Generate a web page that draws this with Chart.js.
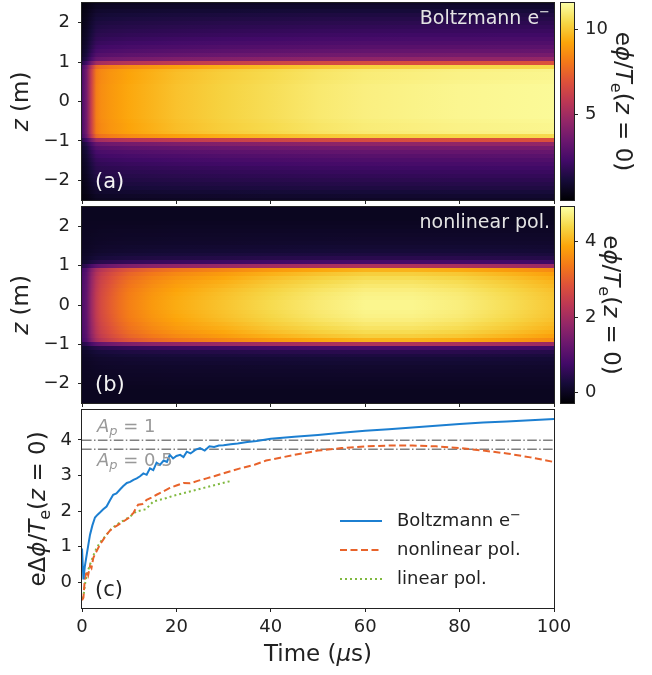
<!DOCTYPE html>
<html>
<head>
<meta charset="utf-8">
<script src="https://cdn.jsdelivr.net/npm/chart.js@4"></script>
<style>
  body { margin: 0; background: #fff; }
  #fig { position: relative; width: 652px; height: 675px; }
  #fig canvas { position: absolute; }
</style>
</head>
<body>
<div id="fig">
  <canvas id="mapA" width="560" height="206" style="left:0;top:0"></canvas>
  <canvas id="barA" width="97" height="206" style="left:555px;top:0"></canvas>
  <canvas id="mapB" width="560" height="206" style="left:0;top:201px"></canvas>
  <canvas id="barB" width="97" height="206" style="left:555px;top:201px"></canvas>
  <canvas id="lineC" width="600" height="275" style="left:0;top:400px"></canvas>
</div>
<script>
// ticks
const zTicks = [-2, -1, 0, 1, 2];
const cTicks = [0, 1, 2, 3, 4];
const barTicksA = [5, 10];
const barTicksB = [0, 2, 4];
const rangeA = [-0.05, 11.55];
const rangeB = [-0.27, 4.92];

// heatmaps: value at z=0 against time, and shape across z (0 .. 2.5, mirrored)
const mapTimes = [0, 1, 2, 3, 4, 6, 8, 10, 15, 20, 30, 40, 50, 60, 70, 80, 90, 100];
const centreA = [2.5, 3.8, 6.2, 8.2, 8.6, 8.9, 9.1, 9.3, 9.6, 9.9, 10.3, 10.6, 10.9, 11.1, 11.2, 11.3, 11.35, 11.4];
const centreB = [0.9, 1.2, 1.9, 2.4, 2.7, 3.0, 3.25, 3.45, 3.75, 3.95, 4.2, 4.45, 4.65, 4.8, 4.8, 4.7, 4.5, 4.25];
const zLevels = [0, 0.1, 0.2, 0.3, 0.4, 0.5, 0.6, 0.7, 0.8, 0.9, 1.0, 1.1, 1.2, 1.3, 1.4, 1.5, 1.6, 1.7, 1.8, 1.9, 2.0, 2.1, 2.2, 2.3, 2.4, 2.5];
const profileA = [1, 1, 1, 1, 1, 0.995, 0.99, 0.99, 0.985, 0.92, 0.6, 0.4, 0.33, 0.29, 0.26, 0.235, 0.215, 0.195, 0.18, 0.165, 0.15, 0.135, 0.12, 0.1, 0.08, 0.065];
const profileB = [1, 1, 0.995, 0.99, 0.98, 0.965, 0.95, 0.93, 0.9, 0.84, 0.45, 0.17, 0.1, 0.07, 0.05, 0.04, 0.03, 0.025, 0.02, 0.015, 0.01, 0.005, 0, 0, 0, 0];

// panel (c)
const boltzTime = [0, 0.3, 0.6, 1.0, 1.4, 1.7, 2.2, 2.75, 3.3, 3.8, 4.5, 5.2, 5.9, 6.6, 7.3, 8.0, 8.7, 9.5, 10.2, 10.9, 11.6, 12.3, 13.0, 13.7, 14.4, 15.1, 15.8, 16.5, 17.3, 18.0, 18.6, 19.3, 20.0, 20.8, 21.5, 22.2, 23.0, 24.0, 25.0, 26.0, 27.0, 28.0, 29.0, 30.0, 31.5, 33, 35, 37, 40, 45, 50, 55, 60, 65, 70, 75, 80, 85, 90, 95, 100];
const boltzValue = [0.95, 0.08, 0.45, 0.78, 1.1, 1.34, 1.6, 1.82, 1.9, 1.96, 2.05, 2.13, 2.3, 2.46, 2.5, 2.6, 2.7, 2.79, 2.82, 2.88, 2.92, 2.98, 3.06, 3.02, 3.2, 3.15, 3.36, 3.3, 3.42, 3.38, 3.58, 3.48, 3.55, 3.58, 3.52, 3.67, 3.62, 3.72, 3.77, 3.7, 3.82, 3.8, 3.84, 3.85, 3.88, 3.9, 3.94, 3.97, 4.03, 4.09, 4.14, 4.2, 4.26, 4.3, 4.35, 4.4, 4.45, 4.49, 4.52, 4.55, 4.59];
const nonlinTime = [0, 0.3, 0.6, 1.0, 1.3, 1.7, 2.0, 2.4, 3.0, 3.8, 4.5, 5.2, 5.9, 6.6, 7.5, 8.75, 9.8, 10.9, 11.5, 11.9, 12.8, 13.7, 14.7, 15.8, 17.2, 18.6, 20, 21.5, 22.9, 24.5, 26.4, 28, 29.9, 31.7, 33.5, 36.7, 39, 42, 45, 50, 55, 60, 65, 70, 75, 80, 85, 90, 95, 100];
const nonlinValue = [-0.5, -0.43, 0.1, 0.32, 0.2, 0.46, 0.4, 0.69, 0.85, 1.06, 1.2, 1.34, 1.45, 1.53, 1.6, 1.71, 1.8, 1.95, 2.1, 2.18, 2.2, 2.32, 2.38, 2.46, 2.55, 2.65, 2.72, 2.79, 2.78, 2.85, 2.92, 2.98, 3.06, 3.13, 3.2, 3.31, 3.42, 3.5, 3.58, 3.7, 3.77, 3.82, 3.84, 3.84, 3.82, 3.77, 3.7, 3.62, 3.51, 3.38];
const linTime = [0, 0.3, 0.7, 1.2, 1.7, 2.4, 3.1, 4.0, 5.2, 6.2, 7.3, 8.7, 10.2, 11.5, 12.5, 13.5, 15.1, 16.5, 17.9, 19.3, 20.8, 22.5, 24.3, 26, 27.8, 29.8, 31.7];
const linValue = [-0.45, -0.39, 0.0, 0.3, 0.5, 0.75, 0.97, 1.15, 1.34, 1.5, 1.62, 1.73, 1.85, 1.99, 2.02, 2.05, 2.27, 2.32, 2.37, 2.43, 2.48, 2.54, 2.6, 2.66, 2.72, 2.79, 2.85];
const apLevels = [3.99, 3.74];

const FONT = '"DejaVu Sans"';
Chart.defaults.font.family = FONT;
Chart.defaults.color = '#222';

const infernoStops = ['#000004', '#160b39', '#420a68', '#6a176e', '#932667', '#bc3754', '#dd513a', '#f37819', '#fca50a', '#f6d746', '#fcffa4'];
const hexRgb = h => [1, 3, 5].map(i => parseInt(h.slice(i, i + 2), 16));
function inferno(f) {
  f = Math.min(1, Math.max(0, f));
  const p = f * 10, i = Math.min(9, Math.floor(p)), u = p - i;
  const a = hexRgb(infernoStops[i]), b = hexRgb(infernoStops[i + 1]);
  return 'rgb(' + a.map((c, k) => Math.round(c + (b[k] - c) * u)).join(',') + ')';
}

function drawRich(ctx, segs, x, y, o) {
  const size = o.size || 18;
  const fontOf = s => (s.it ? 'italic ' : '') + Math.round((s.sub || s.sup ? 0.7 : 1) * size) + 'px ' + FONT;
  ctx.save();
  ctx.translate(x, y);
  ctx.rotate(o.rot || 0);
  ctx.fillStyle = o.color || '#222';
  ctx.textBaseline = 'middle';
  ctx.textAlign = 'left';
  const ws = segs.map(s => { ctx.font = fontOf(s); return ctx.measureText(s.t).width; });
  const total = ws.reduce((a, b) => a + b, 0);
  let cx = o.align === 'left' ? 0 : o.align === 'right' ? -total : -total / 2;
  segs.forEach((s, i) => {
    ctx.font = fontOf(s);
    const dy = s.sub ? size * 0.28 : s.sup ? -size * 0.32 : 0;
    ctx.fillText(s.t, cx, dy);
    cx += ws[i];
  });
  ctx.restore();
}

const textPlugin = fn => ({
  id: 'texts',
  afterDraw(chart) {
    fn(chart.chartArea).forEach(it => drawRich(chart.ctx, it.segs, it.x, it.y, it));
  }
});

const framePlugin = {
  id: 'frame',
  afterDraw(chart) {
    const { ctx, chartArea: a } = chart;
    ctx.save();
    ctx.strokeStyle = '#222';
    ctx.lineWidth = 1;
    ctx.strokeRect(a.left - 0.5, a.top - 0.5, a.width + 1, a.height + 1);
    ctx.restore();
  }
};

const heatmapPlugin = (centre, profile, range) => ({
  id: 'heatmap',
  beforeDatasetsDraw(chart) {
    const { ctx, chartArea: a, scales: { x, y } } = chart;
    const t0 = mapTimes[0], t1 = mapTimes[mapTimes.length - 1];
    const x0 = x.getPixelForValue(t0), x1 = x.getPixelForValue(t1);
    const dz = zLevels[1] - zLevels[0];
    ctx.save();
    ctx.beginPath();
    ctx.rect(a.left, a.top, a.width, a.height);
    ctx.clip();
    profile.forEach((p, k) => {
      const g = ctx.createLinearGradient(x0, 0, x1, 0);
      mapTimes.forEach((t, j) => {
        g.addColorStop((t - t0) / (t1 - t0), inferno((centre[j] * p - range[0]) / (range[1] - range[0])));
      });
      ctx.fillStyle = g;
      const z = zLevels[k];
      (k === 0 ? [z] : [z, -z]).forEach(zc => {
        const yt = Math.floor(y.getPixelForValue(zc + dz / 2));
        const yb = Math.ceil(y.getPixelForValue(zc - dz / 2));
        ctx.fillRect(x0, yt, x1 - x0, yb - yt);
      });
    });
    ctx.restore();
  }
});

const colorbarPlugin = range => ({
  id: 'colorbar',
  beforeDatasetsDraw(chart) {
    const { ctx, chartArea: a, scales: { y } } = chart;
    const g = ctx.createLinearGradient(0, y.getPixelForValue(range[0]), 0, y.getPixelForValue(range[1]));
    infernoStops.forEach((c, i) => g.addColorStop(i / 10, c));
    ctx.save();
    ctx.fillStyle = g;
    ctx.fillRect(a.left, a.top, a.width, a.height);
    ctx.restore();
  }
});

const tickGrid = { drawOnChartArea: false, drawTicks: true, tickLength: 4, color: '#222', lineWidth: 1 };
const minus = v => String(v).replace('-', '\u2212');
const fixTicks = list => s => { s.ticks = list.map(v => ({ value: v })); };
// fixed axis size, and no extra room kept for the end labels
const fitTo = (w, h) => s => {
  if (w !== null) s.width = w;
  if (h !== null) s.height = h;
  s.paddingTop = s.paddingBottom = s.paddingLeft = s.paddingRight = 0;
};

function mapChart(id, centre, profile, range, padTop, xHeight, title, tag) {
  return new Chart(document.getElementById(id), {
    type: 'scatter',
    data: { datasets: [] },
    options: {
      responsive: false, animation: false, devicePixelRatio: 1,
      layout: { autoPadding: false, padding: { top: padTop, right: 6, left: 0, bottom: 0 } },
      plugins: { legend: { display: false }, tooltip: { enabled: false } },
      scales: {
        x: {
          type: 'linear', min: 0, max: 100,
          ticks: { display: false, stepSize: 20 },
          grid: tickGrid, border: { display: false },
          afterFit: fitTo(null, xHeight)
        },
        y: {
          type: 'linear', min: -2.5, max: 2.5,
          afterBuildTicks: fixTicks(zTicks),
          ticks: { font: { size: 18 }, padding: 8, callback: minus },
          grid: tickGrid, border: { display: false },
          afterFit: fitTo(82, null)
        }
      }
    },
    plugins: [heatmapPlugin(centre, profile, range), framePlugin, textPlugin(a => [
      { segs: [{ t: 'z', it: 1 }, { t: ' (m)' }], x: 22, y: (a.top + a.bottom) / 2, rot: -Math.PI / 2, size: 23 },
      { segs: title, x: a.right - 4, y: a.top + 16, align: 'right', size: 18.5, color: '#e4e4e4' },
      { segs: [{ t: tag }], x: a.left + 13, y: a.bottom - 17, align: 'left', size: 21, color: '#f4f4f4' }
    ])]
  });
}

function barChart(id, range, ticks, padTop, padBottom, labelX) {
  return new Chart(document.getElementById(id), {
    type: 'scatter',
    data: { datasets: [] },
    options: {
      responsive: false, animation: false, devicePixelRatio: 1,
      layout: { autoPadding: false, padding: { top: padTop, bottom: padBottom, left: 6, right: 0 } },
      plugins: { legend: { display: false }, tooltip: { enabled: false } },
      scales: {
        x: { type: 'linear', display: false, min: 0, max: 1 },
        y: {
          type: 'linear', position: 'right', min: range[0], max: range[1],
          afterBuildTicks: fixTicks(ticks),
          ticks: { font: { size: 18 }, padding: 7 },
          grid: tickGrid, border: { display: false },
          afterFit: fitTo(78, null)
        }
      }
    },
    plugins: [colorbarPlugin(range), framePlugin, textPlugin(a => [
      { segs: [{ t: 'e' }, { t: 'ϕ', it: 1 }, { t: '/' }, { t: 'T', it: 1 }, { t: 'e', sub: 1 }, { t: '(' }, { t: 'z', it: 1 }, { t: ' = 0)' }],
        x: labelX, y: (a.top + a.bottom) / 2, rot: Math.PI / 2, size: 23 }
    ])]
  });
}

mapChart('mapA', centreA, profileA, rangeA, 3, 6, [{ t: 'Boltzmann e' }, { t: '−', sup: 1 }], '(a)');
mapChart('mapB', centreB, profileB, rangeB, 6, 4, [{ t: 'nonlinear pol.' }], '(b)');
barChart('barA', rangeA, barTicksA, 3, 6, 67);
barChart('barB', rangeB, barTicksB, 6, 4, 55);

const pairs = (xs, ys) => xs.map((x, i) => ({ x, y: ys[i] }));
const lineStyle = { showLine: true, pointRadius: 0, fill: false, tension: 0 };

const legendPlugin = {
  id: 'boxLegend',
  afterDraw(chart) {
    const { ctx, chartArea: a } = chart;
    chart.data.datasets.slice(0, 3).forEach((ds, i) => {
      const y = a.top + 111 + i * 29;
      ctx.save();
      ctx.strokeStyle = ds.borderColor;
      ctx.lineWidth = ds.borderWidth;
      ctx.setLineDash(ds.borderDash || []);
      ctx.beginPath();
      ctx.moveTo(a.left + 258, y);
      ctx.lineTo(a.left + 300, y);
      ctx.stroke();
      ctx.restore();
      const segs = ds.label.endsWith('⁻') ? [{ t: ds.label.slice(0, -1) }, { t: '−', sup: 1 }] : [{ t: ds.label }];
      drawRich(ctx, segs, a.left + 315, y, { align: 'left', size: 18 });
    });
  }
};

new Chart(document.getElementById('lineC'), {
  type: 'scatter',
  data: {
    datasets: [
      { label: 'Boltzmann e⁻', data: pairs(boltzTime, boltzValue), borderColor: '#1c7fd1', borderWidth: 2, ...lineStyle },
      { label: 'nonlinear pol.', data: pairs(nonlinTime, nonlinValue), borderColor: '#e8632b', borderWidth: 2, borderDash: [7, 3.5], ...lineStyle },
      { label: 'linear pol.', data: pairs(linTime, linValue), borderColor: '#80b940', borderWidth: 2, borderDash: [2, 3], ...lineStyle },
      { label: 'Ap1', data: pairs([0, 100], [apLevels[0], apLevels[0]]), borderColor: '#808080', borderWidth: 1.5, borderDash: [9.6, 2.4, 1.5, 2.4], ...lineStyle },
      { label: 'Ap05', data: pairs([0, 100], [apLevels[1], apLevels[1]]), borderColor: '#808080', borderWidth: 1.5, borderDash: [9.6, 2.4, 1.5, 2.4], ...lineStyle }
    ]
  },
  options: {
    responsive: false, animation: false, devicePixelRatio: 1,
    layout: { autoPadding: false, padding: { top: 10, right: 46, left: 0, bottom: 0 } },
    plugins: { legend: { display: false }, tooltip: { enabled: false } },
    scales: {
      x: {
        type: 'linear', min: 0, max: 100,
        ticks: { stepSize: 20, font: { size: 18 }, padding: 5, maxRotation: 0 },
        grid: tickGrid, border: { display: false },
        afterFit: fitTo(null, 67)
      },
      y: {
        type: 'linear', min: -0.72, max: 4.84,
        afterBuildTicks: fixTicks(cTicks),
        ticks: { font: { size: 18 }, padding: 6 },
        grid: tickGrid, border: { display: false },
        afterFit: fitTo(82, null)
      }
    }
  },
  plugins: [framePlugin, legendPlugin, textPlugin(a => [
    { segs: [{ t: 'e' }, { t: 'Δ' }, { t: 'ϕ', it: 1 }, { t: '/' }, { t: 'T', it: 1 }, { t: 'e', sub: 1 }, { t: '(' }, { t: 'z', it: 1 }, { t: ' = 0)' }],
      x: 39, y: (a.top + a.bottom) / 2, rot: -Math.PI / 2, size: 23 },
    { segs: [{ t: 'Time (' }, { t: 'μ', it: 1 }, { t: 's)' }], x: (a.left + a.right) / 2, y: 255, size: 23 },
    { segs: [{ t: '(c)' }], x: a.left + 13, y: a.bottom - 17, align: 'left', size: 21 },
    { segs: [{ t: 'A', it: 1 }, { t: 'p', it: 1, sub: 1 }, { t: ' = 1' }], x: a.left + 15, y: a.top + 17, align: 'left', size: 18, color: '#999' },
    { segs: [{ t: 'A', it: 1 }, { t: 'p', it: 1, sub: 1 }, { t: ' = 0.5' }], x: a.left + 15, y: a.top + 51, align: 'left', size: 18, color: '#999' }
  ])]
});
</script>
</body>
</html>
